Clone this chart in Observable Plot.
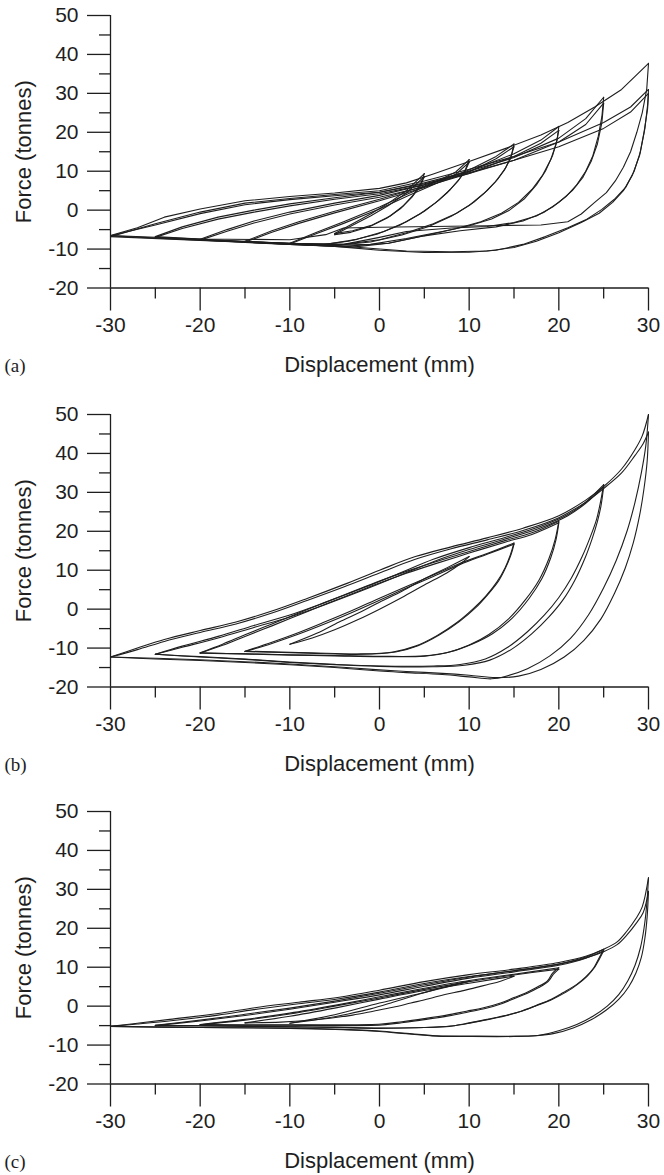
<!DOCTYPE html>
<html><head><meta charset="utf-8">
<script src="https://cdn.jsdelivr.net/npm/d3@7"></script>
<script src="https://cdn.jsdelivr.net/npm/@observablehq/plot@0.6"></script>
<style>
body{margin:0;background:#fff;}
#chart{width:664px;}
#chart svg{display:block;}
</style></head><body><div id="chart"></div>
<script>
// ---- axis values ----
const xTicks = [-30,-20,-10,0,10,20,30];
const xMinor = [-25,-15,-5,5,15,25];
const yTicks = [-20,-10,0,10,20,30,40,50];
const yMinor = [-15,-5,5,15,25,35,45];
const panelLabels = ["(a)","(b)","(c)"];
const xTitle = "Displacement (mm)";
const yTitle = "Force (tonnes)";

// ---- panel (a) loops: [displacement mm, force tonnes] ----
const a30_1 = [[-30,-6.5],[-27,-4.5],[-24,-1.8],[-20,0.3],[-15,2.4],[-10,3.5],[-5,4.4],[0,5.6],[3,7],[6,9.3],[10,12.5],[14,15.8],[18,19.3],[21,22.5],[24,26.5],[27,31],[30,37.7],
  [29.8,31],[29.3,25],[28.7,20],[28,15],[27.2,11],[26.3,7.5],[25.3,4.5],[24,2],[22.5,-1],[21,-3],[18,-3.8],[12,-4],[6,-4.2],[0,-4.4],[-4,-4.6],[-6,-6.3],[-10,-7.6],[-20,-7.4],[-30,-6.5]];
const a30_2 = [[-30,-6.8],[-25,-3.5],[-20,-0.5],[-15,1.8],[-10,3],[-5,4],[0,5],[5,7.5],[10,10.5],[15,13.8],[20,17.5],[25,22.5],[28,26.5],[30,31],
  [29.9,27],[29.6,21],[29.1,15],[28.4,10],[27.5,6],[26.3,3],[24.8,0.2],[23,-2.5],[21,-4.5],[18.5,-6.8],[16,-8.8],[13,-10.3],[10,-10.8],[5,-10.9],[0,-10.3],[-5,-9.3],[-10,-8.7],[-20,-7.8],[-30,-6.8]];
const a30_3 = [[-30,-6.6],[-25,-3.8],[-20,-0.9],[-15,1.4],[-10,2.7],[-5,3.7],[0,4.6],[5,6.8],[10,9.6],[15,12.8],[20,16.3],[25,21],[28,25.2],[30,30],
  [29.9,26],[29.5,20],[29,14],[28.2,9],[27.2,5],[26,2],[24.5,-0.8],[22.5,-3.2],[20,-5.8],[17.5,-8],[15,-9.6],[12,-10.5],[8,-10.7],[3,-10.5],[0,-10],[-5,-9.1],[-10,-8.5],[-20,-7.7],[-30,-6.6]];
const a25_1 = [[-25,-6.8],[-22,-4.3],[-18,-1.8],[-14,0],[-10,1.6],[-5,3.2],[0,4.6],[5,7],[10,10],[15,13.5],[20,18.5],[23,23.5],[25,29],
  [24.8,24],[24.4,19],[23.8,14],[23,10],[22,6.5],[20.8,3.5],[19.3,0.8],[17.5,-1.5],[15,-3.2],[12,-4.2],[8,-4.6],[3,-5.5],[0,-7],[-4,-8.8],[-10,-8.6],[-15,-8.1],[-20,-7.4],[-25,-6.8]];
const a25_2 = [[-25,-7],[-22,-4.7],[-18,-2.3],[-14,-0.5],[-10,1.1],[-5,2.8],[0,4.2],[5,6.5],[10,9.4],[15,12.8],[20,17.5],[23,22],[25,27.5],
  [24.8,22.5],[24.3,17],[23.6,12.5],[22.7,8.5],[21.5,5],[20,2],[18.3,-0.6],[16,-2.8],[13,-4.3],[9,-5.3],[5,-6.6],[1,-8.5],[-3,-9.5],[-8,-9],[-15,-8.3],[-20,-7.6],[-25,-7]];
const a20_1 = [[-20,-7.5],[-17,-5],[-14,-2.8],[-10,-0.5],[-5,1.8],[0,3.8],[5,6.5],[10,10],[15,14.5],[18,18],[20,21.5],
  [19.8,18],[19.3,14],[18.5,10],[17.5,6.5],[16.2,3],[14.5,0],[12.5,-2.3],[10,-4],[7,-5.5],[3,-7.3],[-1,-8.8],[-5,-9],[-10,-8.5],[-15,-8],[-20,-7.5]];
const a20_2 = [[-20,-7.7],[-17,-5.4],[-14,-3.3],[-10,-1],[-5,1.3],[0,3.3],[5,6],[10,9.4],[15,13.8],[18,17.2],[20,20.5],
  [19.7,17],[19.1,13],[18.2,9],[17,5.3],[15.5,2],[13.6,-0.8],[11.3,-3],[8.5,-4.8],[5,-6.6],[1,-8.5],[-4,-9.3],[-10,-8.8],[-15,-8.2],[-20,-7.7]];
const a15_1 = [[-15,-8],[-12,-5.3],[-9,-3],[-5,-0.3],[0,2.8],[5,6.2],[10,10.3],[13,13.8],[15,17],
  [14.7,14],[14.1,11],[13.2,8],[12,5],[10.5,2],[8.6,-0.8],[6,-3.5],[3,-5.8],[0,-7.6],[-4,-8.8],[-10,-8.6],[-15,-8]];
const a15_2 = [[-15,-8.2],[-12,-5.7],[-9,-3.4],[-5,-0.7],[0,2.4],[5,5.8],[10,9.8],[13,13.2],[15,16.3],
  [14.6,13.2],[13.9,10.2],[12.9,7.2],[11.6,4.2],[10,1.2],[8,-1.6],[5.5,-4.2],[2.5,-6.4],[-1,-8.2],[-5,-9.1],[-10,-8.8],[-15,-8.2]];
const a10_1 = [[-10,-8.5],[-7,-5.7],[-4,-3],[0,0.8],[3,4],[6,7],[8.5,9.8],[10,13],
  [9.6,10.5],[8.9,8],[7.9,5.3],[6.6,2.5],[5,-0.3],[3,-3],[0.5,-5.5],[-2.5,-7.5],[-6,-8.8],[-10,-8.5]];
const a10_2 = [[-10,-8.7],[-7,-6],[-4,-3.4],[0,0.3],[3,3.5],[6,6.5],[8.5,9.2],[10,12.3],
  [9.5,9.8],[8.7,7.3],[7.6,4.6],[6.2,1.8],[4.5,-1],[2.3,-3.8],[-0.3,-6.2],[-3.5,-8],[-7,-9],[-10,-8.7]];
const a5_1 = [[-5,-6],[-3,-3.5],[-1,-1],[1,1.8],[3,5],[5,9.4],
  [4.6,6.8],[3.8,4],[2.7,1.2],[1.2,-1.5],[-0.8,-3.8],[-3,-5.3],[-5,-6]];
const a5_2 = [[-5,-6.3],[-3,-3.9],[-1,-1.5],[1,1.2],[3,4.4],[5,8.6],
  [4.5,6],[3.6,3.3],[2.4,0.5],[0.8,-2.1],[-1.2,-4.3],[-3.2,-5.7],[-5,-6.3]];

// ---- panel (b) loops ----
const b30_1 = [[-30,-12.3],[-27,-10],[-24,-7.8],[-20,-5.5],[-16,-3.3],[-12,-0.5],[-8,2.8],[-4,6.3],[0,10],[4,13.5],[8,16],[12,18.3],[16,20.8],[20,24],[23,28],[25,31.5],[27,36],[28.5,41],[29.3,44.5],[30,50],
  [29.7,42],[29.2,35],[28.5,27.5],[27.6,20],[26.4,12.5],[25,5.5],[23.3,-1.5],[21.3,-7.5],[19,-12],[16.5,-15.3],[14,-17.3],[12.5,-17.9],[10,-17.4],[7,-16.8],[3,-16.3],[0,-15.9],[-5,-15],[-10,-14.3],[-15,-13.7],[-20,-13.2],[-25,-12.8],[-30,-12.3]];
const b30_2 = [[-30,-12.3],[-27,-10.4],[-24,-8.3],[-20,-6],[-16,-3.8],[-12,-1],[-8,2.3],[-4,5.7],[0,9.3],[4,12.8],[8,15.5],[12,17.8],[16,20.2],[20,23.5],[23,27.5],[25,31],[27,35],[28.5,39.5],[29.4,42.5],[30,45.5],
  [29.85,38],[29.5,31],[29,24],[28.3,17],[27.4,10.5],[26.2,4],[24.7,-2.5],[22.8,-8],[20.6,-12.3],[18,-15.5],[15.5,-17.2],[13,-17.6],[10,-17],[7,-16.5],[3,-16],[0,-15.6],[-5,-14.8],[-10,-14.1],[-15,-13.5],[-20,-13],[-25,-12.6],[-30,-12.3]];
const b25_1 = [[-25,-11.6],[-22,-9.5],[-18,-7],[-14,-4.2],[-10,-1.5],[-6,1.8],[-2,5.3],[2,9],[6,12.8],[10,15.8],[14,18.4],[18,21.3],[21,24.3],[23,27.5],[25,32],
  [24.6,27],[24.2,23],[23.5,18.5],[22.6,13.5],[21.4,8],[20,3],[18.4,-1.5],[16.5,-5.8],[14.3,-9.8],[11.8,-12.8],[9,-14.2],[6,-14.6],[0,-14.6],[-5,-14.2],[-10,-13.6],[-15,-12.8],[-20,-12.2],[-25,-11.6]];
const b25_2 = [[-25,-11.6],[-22,-9.8],[-18,-7.4],[-14,-4.7],[-10,-2],[-6,1.2],[-2,4.7],[2,8.4],[6,12.2],[10,15.3],[14,18],[18,20.9],[21,24],[23,27.2],[25,31.5],
  [24.7,26.5],[24.3,22.5],[23.7,18],[22.9,13],[21.8,7.5],[20.5,2.5],[18.9,-2],[17,-6.3],[14.8,-10.2],[12.3,-13.1],[9.5,-14.4],[6,-14.8],[0,-14.7],[-5,-14.3],[-10,-13.7],[-15,-12.9],[-20,-12.3],[-25,-11.6]];
const b20_1 = [[-20,-11.2],[-17.5,-9],[-15,-6.6],[-12,-3.8],[-9,-1],[-6,1.8],[-3,4.5],[0,7.2],[3,9.7],[6,12],[10,14.8],[14,17.6],[17,19.6],[20,22.6],
  [19.6,18],[18.9,13],[17.8,7.5],[16.3,2.5],[14.4,-2.5],[12.2,-6.5],[10,-9.2],[7.5,-11.2],[5,-12.1],[0,-12.2],[-5,-12],[-10,-11.8],[-15,-11.5],[-20,-11.2]];
const b20_2 = [[-20,-11.3],[-17.5,-9.3],[-15,-7],[-12,-4.3],[-9,-1.5],[-6,1.3],[-3,4],[0,6.7],[3,9.2],[6,11.5],[10,14.4],[14,17.2],[17,19.2],[20,22.2],
  [19.7,18],[19.1,13.2],[18.1,7.8],[16.7,2.8],[14.8,-2.3],[12.6,-6.3],[10.3,-9],[7.8,-11],[5,-12],[0,-12.1],[-5,-11.9],[-10,-11.7],[-15,-11.5],[-20,-11.3]];
const b15_1 = [[-15,-10.8],[-12,-8.5],[-9,-6],[-6,-3.2],[-3,-0.3],[0,2.8],[3,5.8],[6,8.8],[9,11.8],[12,14.3],[15,17],
  [14.6,14],[14,10.6],[13.1,7],[11.9,3.5],[10.4,0],[8.6,-3.5],[6.4,-6.8],[4,-9.5],[1.5,-11],[-2,-11.5],[-8,-11.2],[-15,-10.8]];
const b15_2 = [[-15,-10.9],[-12,-8.8],[-9,-6.4],[-6,-3.7],[-3,-0.8],[0,2.3],[3,5.4],[6,8.4],[9,11.5],[12,14.1],[15,16.7],
  [14.7,14.2],[14.1,10.8],[13.3,7.3],[12.1,3.8],[10.7,0.3],[8.9,-3.2],[6.7,-6.6],[4.3,-9.4],[1.8,-11],[-2,-11.6],[-8,-11.3],[-15,-10.9]];
const b10_1 = [[-10,-9],[-7,-6.2],[-4.5,-3.3],[-2,-0.6],[0,1.8],[2.5,4.6],[5,7.8],[7.5,10.6],[10,13.5],
  [9,11.6],[7.5,9.3],[5,6.2],[2.5,3],[0,0],[-2.5,-2.8],[-5,-5.3],[-7.5,-7.4],[-10,-9]];

// ---- panel (c) loops ----
const c30_1 = [[-30,-5.2],[-27,-4.4],[-23.4,-3.4],[-18,-1.9],[-13.9,-0.4],[-9,1],[-4.5,2.3],[0,4.1],[5,6.3],[10,8.1],[15,9.5],[20,11.2],[23,12.8],[25,14.6],[26.5,16.5],[27.6,19.3],[28.6,22.5],[29.3,25.5],[30,33],
  [29.8,26],[29.5,20],[29.1,15],[28.5,10.5],[27.7,6.5],[26.7,3],[25.4,0],[23.8,-2.6],[22,-4.7],[20,-6.3],[18,-7.4],[15.3,-7.7],[10,-7.7],[6.4,-7.6],[3,-7],[0,-6.4],[-5,-5.9],[-10,-5.6],[-20,-5.5],[-30,-5.2]];
const c30_2 = [[-30,-5.2],[-27,-4.6],[-23,-3.7],[-18,-2.3],[-14,-0.9],[-9,0.6],[-4.5,1.9],[0,3.6],[5,5.8],[10,7.6],[15,9.1],[20,10.8],[23,12.4],[25,14],[26.5,15.8],[27.6,18.3],[28.6,21.2],[29.4,24],[30,29.5],
  [29.85,23],[29.6,17.5],[29.2,12.5],[28.6,8.5],[27.8,5],[26.7,1.8],[25.3,-1],[23.6,-3.5],[21.6,-5.6],[19.5,-7],[17.5,-7.6],[15,-7.8],[10,-7.8],[6.4,-7.7],[3,-7.1],[0,-6.5],[-5,-6],[-10,-5.7],[-20,-5.5],[-30,-5.2]];
const c25_1 = [[-25,-4.9],[-20,-3.6],[-15,-2.1],[-10,-0.5],[-5,1.3],[0,3.3],[5,5.5],[10,7.5],[15,9.1],[20,10.8],[23,12.6],[25,14.6],
  [24.4,12],[23.9,9.85],[23,7.5],[22,5.6],[20.5,3.5],[19.1,1.7],[17.5,0.2],[15.8,-1.3],[14,-2.4],[12,-3.4],[10,-4.3],[7.8,-5.2],[5,-5.5],[0,-5.6],[-5,-5.4],[-10,-5.3],[-15,-5.1],[-20,-5],[-25,-4.9]];
const c25_2 = [[-25,-5],[-20,-3.8],[-15,-2.4],[-10,-0.8],[-5,1],[0,2.9],[5,5.1],[10,7.2],[15,8.8],[20,10.5],[23,12.3],[25,14.2],
  [24.5,12],[24,10],[23.2,7.8],[22.2,5.8],[20.8,3.6],[19.3,1.8],[17.7,0.3],[16,-1.2],[14.2,-2.4],[12.2,-3.4],[10.2,-4.3],[8,-5.1],[5,-5.5],[0,-5.7],[-5,-5.5],[-10,-5.3],[-15,-5.2],[-20,-5.1],[-25,-5]];
const c20_1 = [[-20,-4.7],[-15,-3.4],[-10,-1.8],[-5,0.2],[0,2.4],[5,4.6],[10,6.6],[15,8.2],[20,9.85],
  [19.3,8.5],[18.7,6.4],[17.5,4.8],[16.3,3.4],[15,2.2],[13.5,0.8],[11.5,-0.5],[9.7,-1.3],[7.5,-2.3],[5,-3.2],[2.5,-4],[0.2,-4.6],[-5,-4.8],[-10,-4.8],[-15,-4.8],[-20,-4.7]];
const c20_2 = [[-20,-4.8],[-15,-3.6],[-10,-2],[-5,0],[0,2.1],[5,4.3],[10,6.3],[15,8],[20,9.5],
  [19.4,8.2],[18.8,6.3],[17.7,4.7],[16.5,3.3],[15.2,2.1],[13.7,0.7],[11.8,-0.6],[9.9,-1.5],[7.7,-2.5],[5.2,-3.4],[2.7,-4.2],[0.3,-4.8],[-5,-5],[-10,-4.9],[-15,-4.9],[-20,-4.8]];
const c15_1 = [[-15,-4.3],[-10,-2.6],[-5,-0.5],[0,1.8],[5,4],[10,5.9],[13,7],[15,7.7],
  [13.5,6.4],[12,5.5],[10.6,4.7],[9,3.8],[7.3,3],[5.5,1.9],[3.5,0.8],[1.5,-0.3],[-0.7,-1.3],[-3,-2.3],[-5.5,-3.1],[-8,-3.7],[-11,-4.1],[-15,-4.3]];
const c10_1 = [[-10,-4.4],[-5,-2.2],[0,0.8],[5,3.5],[8,5.2],[10,6.4],
  [8.5,5.6],[6.5,4.5],[4,2.8],[1.5,1],[-1,-0.7],[-3.5,-2],[-6,-3.1],[-10,-4.4]];

const panelA = [a30_1,a30_2,a30_3,a25_1,a25_2,a20_1,a20_2,a15_1,a15_2,a10_1,a10_2,a5_1,a5_2];
const panelB = [b30_1,b30_2,b25_1,b25_2,b20_1,b20_2,b15_1,b15_2,b10_1];
const panelC = [c30_1,c30_2,c25_1,c25_2,c20_1,c20_2,c15_1,c10_1];

// split each loop at its peak (max displacement) so corners stay sharp
function rows(loops){
  const out = [];
  loops.forEach((pts, i) => {
    let k = 0;
    pts.forEach((p, j) => { if (p[0] > pts[k][0]) k = j; });
    pts.slice(0, k + 1).forEach(([x, y]) => out.push({x, y, seg: i + "u"}));
    pts.slice(k).forEach(([x, y]) => out.push({x, y, seg: i + "d"}));
  });
  return out;
}

const FONT = "'Liberation Sans', Arial, Helvetica, sans-serif";
const INK = "#1e1e1e";

function panel(loops, label, height, marginBottom, curve, sw){
  return Plot.plot({
    width: 664, height,
    marginLeft: 110, marginRight: 16, marginTop: 15, marginBottom,
    x: {domain: [-30, 30]},
    y: {domain: [-20, 50]},
    style: {fontFamily: FONT, fontSize: "21px", color: INK, background: "#fff", overflow: "visible"},
    marks: [
      Plot.axisY(yTicks, {tickSize: 23, tickPadding: 9, tickFormat: d => String(d), label: null, strokeWidth: 1.3, fontSize: 21}),
      Plot.axisY(yMinor, {tickSize: 11, tickFormat: () => "", label: null, strokeWidth: 1.3}),
      Plot.axisX(xTicks, {tickSize: 23, tickPadding: 6, tickFormat: d => String(d), label: null, strokeWidth: 1.3, fontSize: 21}),
      Plot.axisX(xMinor, {tickSize: 11, tickFormat: () => "", label: null, strokeWidth: 1.3}),
      Plot.ruleX([-30], {stroke: INK, strokeWidth: 1.3}),
      Plot.ruleY([-20], {stroke: INK, strokeWidth: 1.3}),
      Plot.line(rows(loops), {x: "x", y: "y", z: "seg", stroke: INK, strokeWidth: sw, curve}),
      Plot.text([yTitle], {frameAnchor: "left", dx: -87, rotate: -90, textAnchor: "middle", lineAnchor: "middle",
        text: d => d, fontSize: 22, fill: INK}),
      Plot.text([xTitle], {frameAnchor: "bottom", dy: 77, textAnchor: "middle", lineAnchor: "middle",
        text: d => d, fontSize: 22, fill: INK}),
      Plot.text([label], {frameAnchor: "bottom-left", dx: -106, dy: 78, textAnchor: "start", lineAnchor: "middle", text: d => d,
        fontFamily: "'Liberation Serif', 'Times New Roman', serif", fontSize: 19, fill: INK})
    ]
  });
}

const root = document.getElementById("chart");
root.append(panel(panelA, panelLabels[0], 399, 111.5, "linear", 1.1));
root.append(panel(panelB, panelLabels[1], 397, 109.5, "catmull-rom", 1.1));
root.append(panel(panelC, panelLabels[2], 379, 91.5, "catmull-rom", 1.1));
</script>
</body></html>
